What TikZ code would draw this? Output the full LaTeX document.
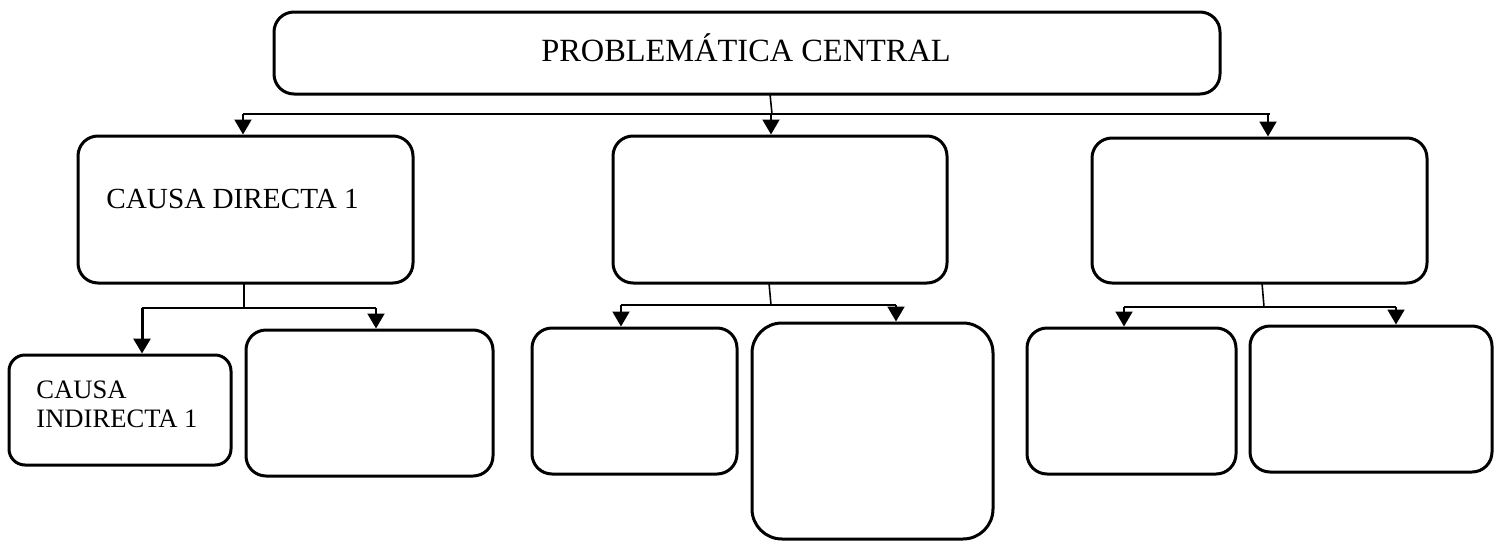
\documentclass[tikz,border=0pt]{standalone}
\usepackage{fontspec}
\setmainfont{Liberation Serif}
\usetikzlibrary{fit,arrows.meta}
\tikzset{
  box/.style={draw, line width=1.5pt, rounded corners=10pt, inner sep=0pt},
  bigbox/.style={box, rounded corners=15pt},
  smallbox/.style={box, rounded corners=8pt},
  conn/.style={line width=0.8pt},
  arr/.style={line width=1pt, -{Triangle[length=7.5pt,width=8.5pt]}},
  lbl/.style={inner sep=0pt, anchor=base west}
}
\begin{document}
\begin{tikzpicture}[x=0.5pt,y=-0.5pt]
\useasboundingbox (0,0) rectangle (1494,541);
% boxes
\node[box, fit={(274,12)(1220,94)}] (top) {};
\node[box, fit={(78,136)(413,283)}] (d1) {};
\node[box, fit={(613,136)(947,283)}] (d2) {};
\node[box, fit={(1092,138)(1427,283)}] (d3) {};
\node[smallbox, fit={(9,355)(231,465)}] (i1) {};
\node[box, fit={(246,330)(493,476)}] (i2) {};
\node[box, fit={(532,328)(737,474)}] (m1) {};
\node[bigbox, fit={(752,323)(993,539)}] (m2) {};
\node[box, fit={(1027,328)(1236,474)}] (r1) {};
\node[box, fit={(1250,326)(1492,472)}] (r2) {};
% texts
\node[inner sep=0pt, anchor=base] (tt) at (746,61) {\fontsize{16.2}{19}\selectfont PROBLEMÁTICA CENTRAL};
\node[lbl] (d1t) at (106,208) {\fontsize{14.6}{17}\selectfont CAUSA DIRECTA 1};
\node[lbl] (i1ta) at (36,398) {\fontsize{13.3}{15}\selectfont CAUSA};
\node[lbl] (i1tb) at (36,427) {\fontsize{13.3}{15}\selectfont INDIRECTA 1};
% top connectors
\coordinate (s0a) at (770,94);
\coordinate (s0b) at (772,114);
\coordinate (b0l) at (243,114);
\coordinate (b0m) at (771,114);
\coordinate (b0r) at (1270,114);
\coordinate (b0r2) at (1268,114);
\draw[conn] (s0a) -- (s0b);
\draw[conn] (b0l) -- (b0r);
\draw[arr] (b0l) -- (b0l |- d1.north);
\draw[arr] (b0m) -- (b0m |- d2.north);
\draw[arr] (b0r2) -- (b0r2 |- d3.north);
% under d1
\coordinate (s1a) at (244,283);
\coordinate (s1b) at (244,308);
\coordinate (b1l) at (142,308);
\coordinate (b1r) at (376,308);
\draw[conn] (s1a) -- (s1b);
\draw[conn] (b1l) -- (b1r);
\draw[arr, line width=1.5pt] (b1l) -- (b1l |- i1.north);
\draw[arr] (b1r) -- (b1r |- i2.north);
% under d2
\coordinate (s2a) at (769,283);
\coordinate (s2b) at (771,305);
\coordinate (b2l) at (621,305);
\coordinate (b2r) at (896,305);
\draw[conn] (s2a) -- (s2b);
\draw[conn] (b2l) -- (b2r);
\draw[arr] (b2l) -- (b2l |- m1.north);
\draw[arr] (b2r) -- (b2r |- m2.north);
% under d3
\coordinate (s3a) at (1262,283);
\coordinate (s3b) at (1264,307);
\coordinate (b3l) at (1124,307);
\coordinate (b3r) at (1396,307);
\draw[conn] (s3a) -- (s3b);
\draw[conn] (b3l) -- (b3r);
\draw[arr] (b3l) -- (b3l |- r1.north);
\draw[arr] (b3r) -- (b3r |- r2.north);
\end{tikzpicture}
\end{document}
